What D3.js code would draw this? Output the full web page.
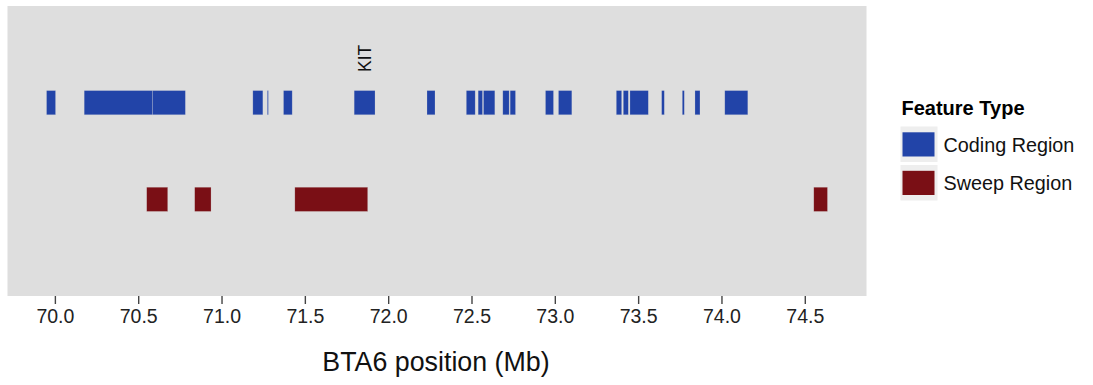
<!DOCTYPE html>
<html>
<head>
<meta charset="utf-8">
<script src="https://cdn.jsdelivr.net/npm/d3@7"></script>
<style>
  body { margin: 0; background: #ffffff; }
  svg { display: block; font-family: "Liberation Sans", Arial, Helvetica, sans-serif; }
</style>
</head>
<body>
<svg id="chart" width="1093" height="385"></svg>
<script>
// Feature tracks along BTA6 (positions in Mb)
const featureTypes = ["Coding Region", "Sweep Region"];
const featureColors = ["#2244a8", "#7a0f15"];

const codingStart = [69.950, 70.176, 70.587, 71.188, 71.275, 71.372, 71.796, 72.233, 72.469, 72.540, 72.572,
                     72.688, 72.732, 72.944, 73.022, 73.369, 73.411, 73.451, 73.641, 73.765, 73.841, 74.020];
const codingEnd   = [70.004, 70.587, 70.783, 71.248, 71.281, 71.424, 71.921, 72.281, 72.522, 72.566, 72.640,
                     72.726, 72.764, 72.992, 73.102, 73.401, 73.441, 73.561, 73.657, 73.777, 73.871, 74.158];

const sweepStart = [70.551, 70.839, 71.440, 74.554];
const sweepEnd   = [70.677, 70.937, 71.877, 74.636];

const geneLabels = ["KIT"];
const geneLabelPos = [71.858];

const xTicks = [70.0, 70.5, 71.0, 71.5, 72.0, 72.5, 73.0, 73.5, 74.0, 74.5];
const xTitle = "BTA6 position (Mb)";
const legendTitle = "Feature Type";

// Layout
const panel = { left: 7.5, top: 6, right: 866.5, bottom: 296 };

const dataMin = d3.min(codingStart.concat(sweepStart));
const dataMax = d3.max(codingEnd.concat(sweepEnd));
const pad = (dataMax - dataMin) * 0.05;

const x = d3.scaleLinear()
  .domain([dataMin - pad, dataMax + pad])
  .range([panel.left, panel.right]);

// track 1 = coding, track 2 = sweep, out of three slots
const y = d3.scaleLinear().domain([0, 3]).range([panel.top, panel.bottom]);
const barH = y(0.25) - y(0);

const svg = d3.select("#chart");

svg.append("rect")
  .attr("x", panel.left).attr("y", panel.top)
  .attr("width", panel.right - panel.left)
  .attr("height", panel.bottom - panel.top)
  .attr("fill", "#dedede");

const tracks = [
  { type: featureTypes[0], color: featureColors[0], level: 1, starts: codingStart, ends: codingEnd },
  { type: featureTypes[1], color: featureColors[1], level: 2, starts: sweepStart, ends: sweepEnd }
];

tracks.forEach(t => {
  const segs = t.starts.map((s, i) => ({ s, e: t.ends[i] }));
  svg.append("g").selectAll("rect")
    .data(segs)
    .join("rect")
    .attr("x", d => x(d.s))
    .attr("width", d => Math.max(1, x(d.e) - x(d.s)))
    .attr("y", y(t.level) - barH / 2)
    .attr("height", barH)
    .attr("fill", t.color)
    .attr("stroke", "#dedede")
    .attr("stroke-opacity", 0.35)
    .attr("stroke-width", 0.6);
});

// Gene label above the coding track
svg.append("g").selectAll("text")
  .data(geneLabels)
  .join("text")
  .attr("transform", (d, i) => `translate(${x(geneLabelPos[i]) + 6},72) rotate(-90)`)
  .attr("font-size", 17.5)
  .attr("fill", "#111")
  .text(d => d);

// X axis
const axis = svg.append("g")
  .attr("transform", `translate(0,${panel.bottom})`)
  .call(d3.axisBottom(x).tickValues(xTicks).tickFormat(d3.format(".1f")).tickSize(8).tickPadding(5));
axis.select(".domain").remove();
axis.selectAll(".tick line").attr("stroke", "#444").attr("stroke-width", 1.4);
axis.selectAll(".tick text")
  .attr("font-size", 19.5)
  .attr("fill", "#222")
  .attr("font-family", "Liberation Sans, Arial, sans-serif");

svg.append("text")
  .attr("x", (panel.left + panel.right) / 2 - 1)
  .attr("y", 371)
  .attr("text-anchor", "middle")
  .attr("font-size", 26.8)
  .attr("fill", "#111")
  .text(xTitle);

// Legend
const lg = svg.append("g");
lg.append("text")
  .attr("x", 901.5).attr("y", 115)
  .attr("font-size", 20).attr("font-weight", "bold")
  .attr("fill", "#000")
  .text(legendTitle);

const items = lg.selectAll("g.item")
  .data(featureTypes)
  .join("g")
  .attr("class", "item")
  .attr("transform", (d, i) => `translate(900.5,${126.5 + i * 38.5})`);
items.append("rect")
  .attr("width", 37).attr("height", 35.5)
  .attr("fill", "#eeeeee");
items.append("rect")
  .attr("x", 2).attr("y", 5.8)
  .attr("width", 32).attr("height", 24.2)
  .attr("fill", (d, i) => featureColors[i]);
items.append("text")
  .attr("x", 43).attr("y", 25)
  .attr("font-size", 19.8)
  .attr("fill", "#111")
  .text(d => d);
</script>
</body>
</html>
